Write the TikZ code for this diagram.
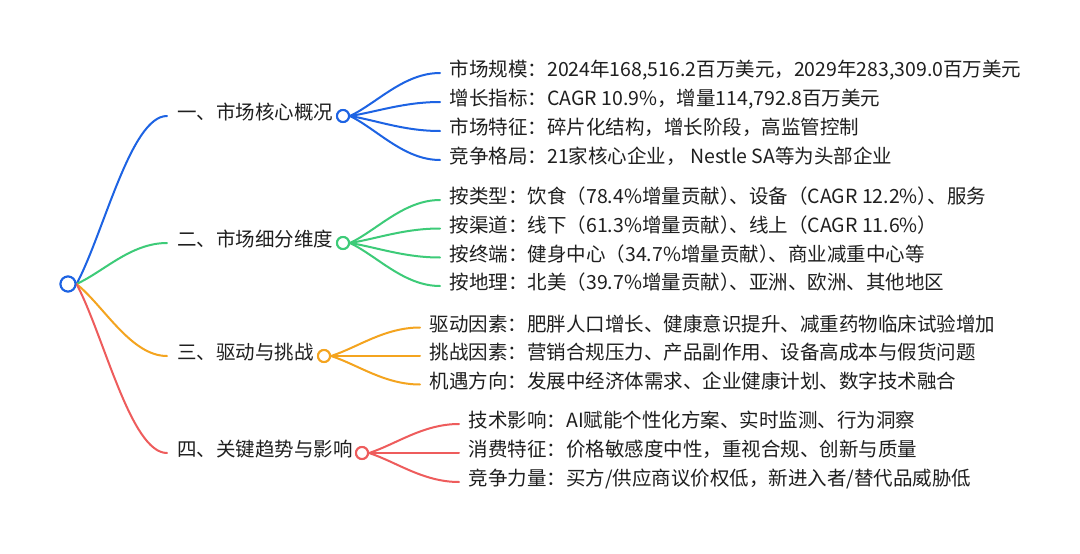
\documentclass[tikz,border=0pt]{standalone}
\usepackage{fontspec}
\newfontfamily\cjk{Noto Sans CJK SC}
\usetikzlibrary{calc}
\definecolor{cblue}{HTML}{1D63E3}
\definecolor{cgreen}{HTML}{3DCB78}
\definecolor{corange}{HTML}{F4A41F}
\definecolor{cred}{HTML}{EE5C5C}
\definecolor{ctext}{HTML}{1F1F1F}
\newcommand{\cpr}{）\kern-0.5em}
\tikzset{
  dot/.style={circle, draw, line width=2pt, fill=white, minimum size=12pt, inner sep=0pt},
  rootdot/.style={dot, minimum size=15pt},
  txt/.style={anchor=west, inner ysep=0pt, text=ctext, font=\cjk\fontsize{19.5}{23}\selectfont, text height=0.88em, text depth=0.12em},
  branchlbl/.style={txt, inner xsep=10pt},
  leaf/.style={txt, inner xsep=9.5pt},
  link/.style={line width=2pt, line cap=round},
  curve/.style={to path={.. controls ($(\tikztostart)!0.3!(\tikztotarget)$) and ($(\tikztostart |- \tikztotarget)!0.6!(\tikztotarget)$) .. (\tikztotarget)}}
}
\begin{document}
\begin{tikzpicture}[x=1pt,y=-1pt]
\useasboundingbox[fill=white] (0,0) rectangle (1080,554);

% root
\node[rootdot, draw=cblue] (root) at (68,284) {};

% branch labels
\node[branchlbl] (b1t) at (167,116) {一、市场核心概况};
\node[branchlbl] (b2t) at (167,243) {二、市场细分维度};
\node[branchlbl] (b3t) at (167,356) {三、驱动与挑战};
\node[branchlbl] (b4t) at (167,453) {四、关键趋势与影响};

% branch circles
\node[dot, draw=cblue] (b1) at (343,116) {};
\node[dot, draw=cgreen] (b2) at (343,243) {};
\node[dot, draw=corange] (b3) at (324,356) {};
\node[dot, draw=cred] (b4) at (362,453) {};

% leaves branch 1
\node[leaf] (l11) at (440,73) {市场规模：2024年168,516.2百万美元，2029年283,309.0百万美元};
\node[leaf] (l12) at (440,102) {增长指标：CAGR 10.9\%，增量114,792.8百万美元};
\node[leaf] (l13) at (440,131) {市场特征：碎片化结构，增长阶段，高监管控制};
\node[leaf] (l14) at (440,160) {竞争格局：21家核心企业， Nestle SA等为头部企业};

% leaves branch 2
\node[leaf] (l21) at (440,200) {按类型：饮食（78.4\%增量贡献\cpr、设备（CAGR 12.2\%\cpr、服务};
\node[leaf] (l22) at (440,228.5) {按渠道：线下（61.3\%增量贡献\cpr、线上（CAGR 11.6\%）};
\node[leaf] (l23) at (440,257.5) {按终端：健身中心（34.7\%增量贡献\cpr、商业减重中心等};
\node[leaf] (l24) at (440,286) {按地理：北美（39.7\%增量贡献\cpr、亚洲、欧洲、其他地区};

% leaves branch 3
\node[leaf] (l31) at (420,327.5) {驱动因素：肥胖人口增长、健康意识提升、减重药物临床试验增加};
\node[leaf] (l32) at (420,356) {挑战因素：营销合规压力、产品副作用、设备高成本与假货问题};
\node[leaf] (l33) at (420,384.5) {机遇方向：发展中经济体需求、企业健康计划、数字技术融合};

% leaves branch 4
\node[leaf] (l41) at (459,424) {技术影响：AI赋能个性化方案、实时监测、行为洞察};
\node[leaf] (l42) at (459,453) {消费特征：价格敏感度中性，重视合规、创新与质量};
\node[leaf] (l43) at (459,482) {竞争力量：买方/供应商议价权低，新进入者/替代品威胁低};

% root to branches
\draw[link, cblue] (root.east) to[curve] (b1t.west);
\draw[link, cgreen] (root.east) to[curve] (b2t.west);
\draw[link, corange] (root.east) to[curve] (b3t.west);
\draw[link, cred] (root.east) to[curve] (b4t.west);

% branch to leaves
\foreach \l in {l11,l12,l13,l14} \draw[link, cblue] (b1.east) to[curve] (\l.west);
\foreach \l in {l21,l22,l23,l24} \draw[link, cgreen] (b2.east) to[curve] (\l.west);
\foreach \l in {l31,l32,l33} \draw[link, corange] (b3.east) to[curve] (\l.west);
\foreach \l in {l41,l42,l43} \draw[link, cred] (b4.east) to[curve] (\l.west);

% redraw circles on top
\node[rootdot, draw=cblue] at (root) {};
\node[dot, draw=cblue] at (b1) {};
\node[dot, draw=cgreen] at (b2) {};
\node[dot, draw=corange] at (b3) {};
\node[dot, draw=cred] at (b4) {};
\end{tikzpicture}
\end{document}
